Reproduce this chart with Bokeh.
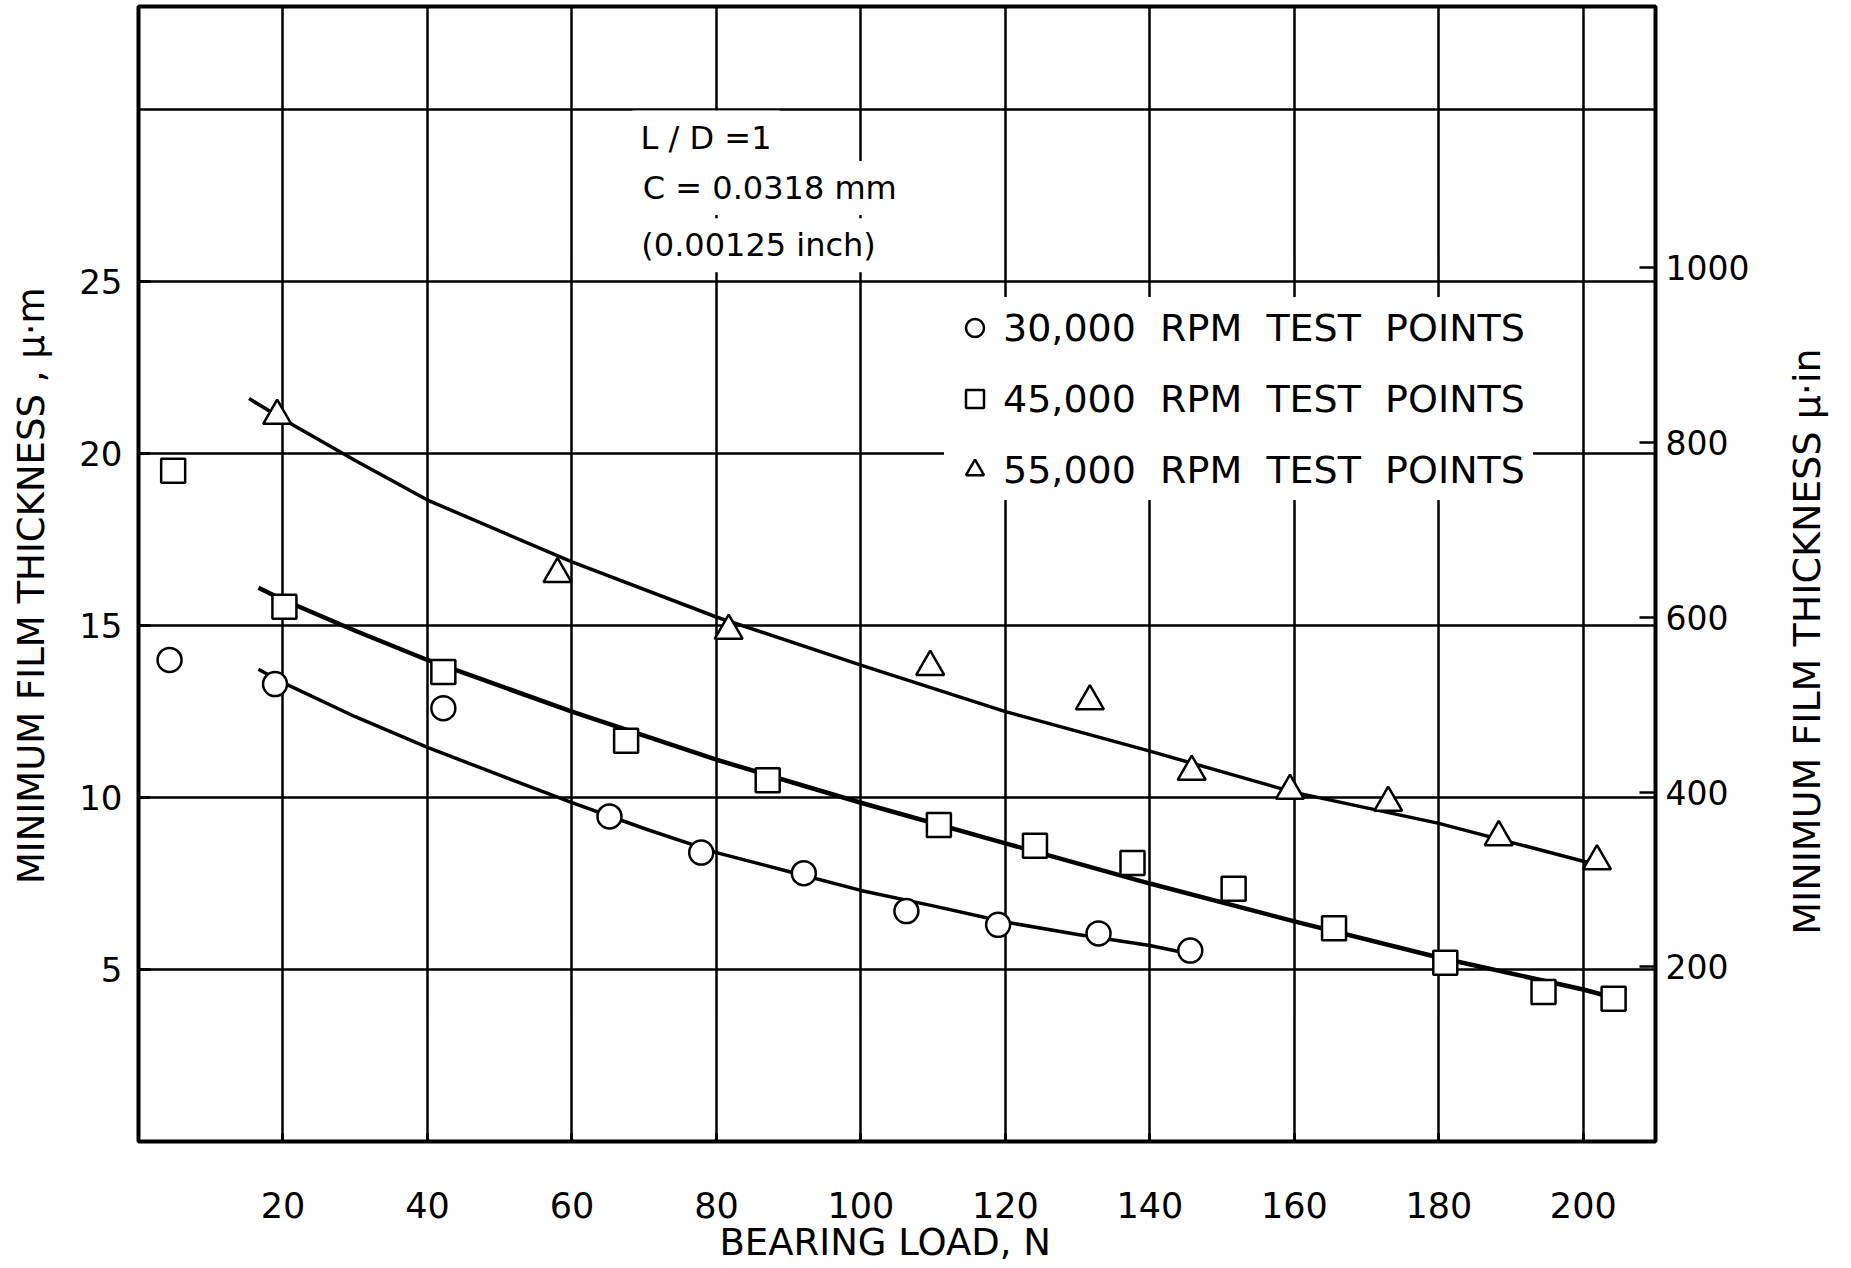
import math
from bokeh.plotting import figure
from bokeh.layouts import row
from bokeh.models import Range1d, LinearAxis, FixedTicker, Label, Legend, LegendItem
from bokeh.embed import file_html
from bokeh.resources import INLINE

# ---------------- data ----------------
load_30k = [4.3, 18.9, 42.2, 65.2, 77.9, 92.1, 106.3, 119.0, 132.9, 145.6]
film_30k = [14.0, 13.3, 12.6, 9.45, 8.4, 7.8, 6.7, 6.3, 6.05, 5.55]

load_45k = [4.8, 20.2, 42.2, 67.5, 87.1, 110.8, 124.1, 137.6, 151.6, 165.5, 180.9, 194.5, 204.2]
film_45k = [19.5, 15.55, 13.65, 11.65, 10.5, 9.2, 8.6, 8.1, 7.35, 6.2, 5.2, 4.35, 4.15]

load_55k = [19.2, 58.0, 81.7, 109.6, 131.7, 145.8, 159.4, 173.0, 188.3, 201.9]
film_55k = [21.1, 16.5, 14.85, 13.8, 12.8, 10.75, 10.2, 9.85, 8.85, 8.15]

curve_load_30k = [16.6, 20, 30, 40, 50, 60, 70, 80, 90, 100, 110, 120, 130, 140, 144.5]
curve_film_30k = [13.73, 13.34, 12.35, 11.46, 10.65, 9.85, 9.1, 8.4, 7.85, 7.3, 6.85, 6.38, 6.02, 5.7, 5.5]

curve_load_45k = [16.6, 20, 30, 40, 60, 80, 100, 120, 140, 160, 180, 200, 205.6]
curve_film_45k = [16.1, 15.75, 14.85, 14.0, 12.5, 11.1, 9.85, 8.67, 7.5, 6.4, 5.35, 4.42, 4.1]

curve_load_55k = [15.3, 20, 30, 40, 60, 80, 100, 120, 140, 160, 180, 200, 203.6]
curve_film_55k = [21.6, 21.0, 19.8, 18.65, 16.85, 15.25, 13.85, 12.5, 11.35, 10.15, 9.25, 8.15, 8.0]

x_ticks = [20, 40, 60, 80, 100, 120, 140, 160, 180, 200]
y_ticks = [5, 10, 15, 20, 25]
y_grid = [5, 10, 15, 20, 25, 30]
uin_ticks = [200, 400, 600, 800, 1000]

legend_labels = ["30,000  RPM  TEST  POINTS",
                 "45,000  RPM  TEST  POINTS",
                 "55,000  RPM  TEST  POINTS"]
note_lines = ["L / D =1", "C = 0.0318 mm", "(0.00125 inch)"]

x_title = "BEARING   LOAD, N"
y_title = "MINIMUM  FILM  THICKNESS , \u00b5\u00b7m"
y2_title = "MINIMUM   FILM   THICKNESS   \u00b5\u00b7in"

X_MAX = 210
Y_MAX = 33.0
UM_PER_UIN = 0.0254

FONT = "DejaVu Sans"
FIG_H = 1266

p = figure(width=1760, height=FIG_H,
           x_range=Range1d(0, X_MAX), y_range=Range1d(0, Y_MAX),
           output_backend="svg", toolbar_location=None,
           min_border_left=138, min_border_right=105,
           min_border_top=6, min_border_bottom=115)
p.background_fill_color = "white"
p.border_fill_color = "white"
p.outline_line_color = "black"
p.outline_line_width = 4

# grid
p.xgrid.ticker = FixedTicker(ticks=x_ticks)
p.ygrid.ticker = FixedTicker(ticks=y_grid)
for g in (p.xgrid[0], p.ygrid[0]):
    g.grid_line_color = "black"
    g.grid_line_width = 2.5
    g.grid_line_alpha = 1.0

# bottom axis
xa = p.xaxis[0]
xa.ticker = FixedTicker(ticks=x_ticks)
xa.axis_label = x_title
xa.major_label_standoff = 50
xa.axis_label_standoff = 0
xa.major_tick_in = 8
xa.major_tick_out = 0
xa.major_tick_line_width = 3
xa.major_label_text_font_size = "35px"
xa.axis_label_text_font_size = "37px"

# left axis
ya = p.yaxis[0]
ya.ticker = FixedTicker(ticks=y_ticks)
ya.axis_label = y_title
ya.major_label_standoff = 16
ya.axis_label_standoff = 23
ya.major_tick_in = 12
ya.major_tick_out = 0
ya.major_tick_line_width = 3
ya.major_label_text_font_size = "34px"
ya.axis_label_text_font_size = "37px"

# right axis (micro-inch)
p.extra_y_ranges = {"uin": Range1d(0, Y_MAX / UM_PER_UIN)}
ra = LinearAxis(y_range_name="uin", ticker=FixedTicker(ticks=uin_ticks))
ra.major_label_standoff = 10
ra.major_tick_in = 16
ra.major_tick_out = 0
ra.major_tick_line_width = 2.5
ra.major_label_text_font_size = "33px"
p.add_layout(ra, "right")

for ax in (xa, ya, ra):
    ax.axis_line_color = None
    ax.minor_tick_line_color = None
    ax.major_tick_line_color = "black"
    ax.major_label_text_font = FONT
    ax.major_label_text_color = "black"
    ax.axis_label_text_font = FONT
    ax.axis_label_text_font_style = "normal"
    ax.axis_label_text_color = "black"

# fitted curves
p.line(curve_load_55k, curve_film_55k, line_color="black", line_width=3.5)
p.line(curve_load_45k, curve_film_45k, line_color="black", line_width=4.5)
p.line(curve_load_30k, curve_film_30k, line_color="black", line_width=3.5)

# test points
r30 = p.scatter(load_30k, film_30k, marker="circle", size=24,
                fill_color="white", line_color="black", line_width=2.5)
r45 = p.scatter(load_45k, film_45k, marker="square", size=24,
                fill_color="white", line_color="black", line_width=2.5)
r55 = p.scatter(load_55k, film_55k, marker="triangle", size=28,
                fill_color="white", line_color="black", line_width=2.5)

# legend
legend = Legend(items=[LegendItem(label=legend_labels[0], renderers=[r30]),
                       LegendItem(label=legend_labels[1], renderers=[r45]),
                       LegendItem(label=legend_labels[2], renderers=[r55])],
                location=(806, 641))
legend.label_text_font = FONT
legend.label_text_font_size = "38px"
legend.label_text_color = "black"
legend.glyph_width = 45
legend.glyph_height = 45
legend.label_height = 45
legend.label_standoff = 6
legend.spacing = 26
legend.padding = 8
legend.margin = 0
legend.background_fill_color = "white"
legend.background_fill_alpha = 1.0
legend.border_line_alpha = 0
p.add_layout(legend)

# bearing parameters note
note_pos = [(68.4, 29.19), (68.7, 27.72), (68.5, 26.06)]
for (nx, ny), txt in zip(note_pos, note_lines):
    p.add_layout(Label(x=nx, y=ny, text=txt, text_font=FONT, text_font_size="32px",
                       text_baseline="middle", text_align="left", text_color="black",
                       background_fill_color="white", background_fill_alpha=1.0,
                       padding=8))

# right-hand axis title (reads bottom to top), in a narrow text-only panel
p2 = figure(width=85, height=FIG_H, x_range=Range1d(0, 85), y_range=Range1d(0, FIG_H),
            output_backend="svg", toolbar_location=None,
            x_axis_location=None, y_axis_location=None, min_border=0)
p2.outline_line_color = None
p2.background_fill_color = "white"
p2.border_fill_color = "white"
p2.grid.visible = False
p2.add_layout(Label(x=46, y=598, text=y2_title, angle=math.pi / 2,
                    text_font=FONT, text_font_size="38px", text_color="black",
                    text_align="center", text_baseline="middle"))

layout = row(p, p2, spacing=0)
open("out.html", "w").write(file_html(layout, INLINE))
